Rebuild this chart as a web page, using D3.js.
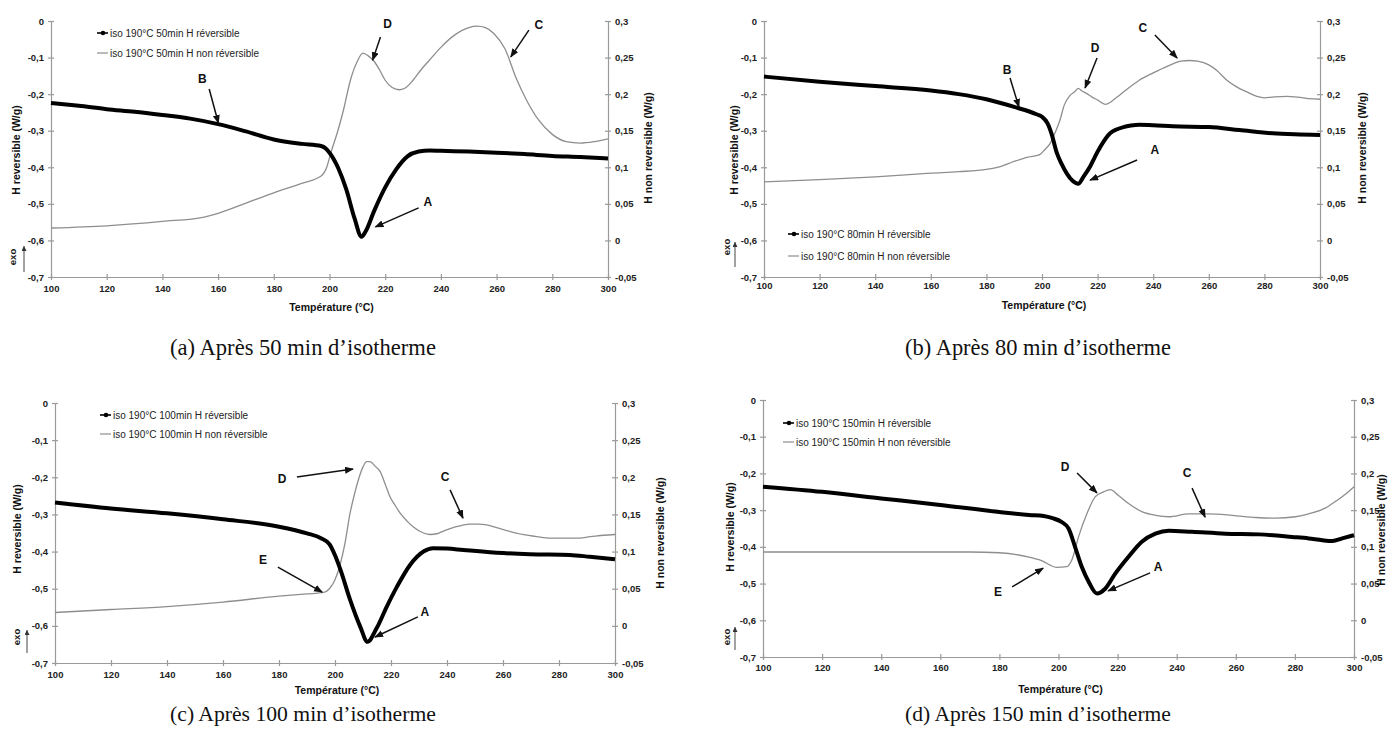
<!DOCTYPE html>
<html><head><meta charset="utf-8">
<script src="https://cdn.jsdelivr.net/npm/d3@7"></script>
<style>body{margin:0;background:#fff}svg{display:block}</style>
</head><body>
<svg id="c" width="1389" height="738"></svg>
<script>
// ---------- data ----------
const tempTicks = [100,120,140,160,180,200,220,240,260,280,300];
const leftTicks = [0,-0.1,-0.2,-0.3,-0.4,-0.5,-0.6,-0.7];
const rightTicks = [0.3,0.25,0.2,0.15,0.1,0.05,0,-0.05];

// (a) 50 min
const revT_a = [100,110,120,130,140,150,160,170,180,190,197,200,203,206,209,211.5,213,216,220,224,228,232,236,240,250,260,270,280,290,300];
const revV_a = [-0.224,-0.232,-0.241,-0.248,-0.257,-0.267,-0.282,-0.302,-0.324,-0.336,-0.342,-0.36,-0.40,-0.46,-0.54,-0.59,-0.575,-0.52,-0.455,-0.405,-0.37,-0.357,-0.354,-0.355,-0.357,-0.36,-0.364,-0.369,-0.372,-0.376];
const nrT_a = [100,120,140,155,160,170,180,190,197,199,200.5,203,205,207.5,210,212,214,216,218,220,222.5,225,227,230,233,236,240,245,250,253,256,259,263,267,271,275,280,285,290,295,300];
const nrV_a = [0.017,0.020,0.026,0.032,0.037,0.051,0.065,0.078,0.088,0.10,0.12,0.15,0.178,0.219,0.245,0.256,0.252,0.245,0.233,0.219,0.209,0.206,0.208,0.219,0.234,0.247,0.264,0.281,0.291,0.293,0.291,0.283,0.262,0.222,0.19,0.165,0.145,0.135,0.133,0.135,0.139];

// (b) 80 min
const revT_b = [100,120,140,160,170,180,190,198,200,202,203.5,205.3,207,209,211,213,215,217.3,219,221,224.5,227,229.3,232,235,240,247,260,271,283,291,300];
const revV_b = [-0.152,-0.166,-0.178,-0.19,-0.2,-0.214,-0.235,-0.255,-0.262,-0.28,-0.31,-0.36,-0.39,-0.418,-0.437,-0.445,-0.425,-0.398,-0.372,-0.344,-0.307,-0.296,-0.29,-0.286,-0.284,-0.285,-0.288,-0.29,-0.298,-0.307,-0.31,-0.312];
const nrT_b = [100,120,140,160,170,180,185,190,195,199,201,203,205,206.5,208,210,212,213,214.5,216,218,220,222.7,225,227,230,235,240,245,250,253,256,260,263,266.5,270,273.7,277.3,280,283,288,292,296,300];
const nrV_b = [0.080,0.083,0.087,0.092,0.094,0.097,0.101,0.108,0.114,0.117,0.124,0.133,0.15,0.165,0.185,0.198,0.204,0.208,0.204,0.201,0.196,0.192,0.186,0.19,0.196,0.205,0.219,0.229,0.238,0.245,0.246,0.245,0.24,0.232,0.219,0.21,0.203,0.197,0.195,0.196,0.197,0.196,0.194,0.193];

// (c) 100 min
const revT_c = [100,120,140,160,180,190,195,198,200,202,205.4,209,211.6,214.9,218.5,222.1,226.8,231.6,235,240,245.8,257.7,269.6,283.9,291,300];
const revV_c = [-0.268,-0.284,-0.297,-0.313,-0.333,-0.351,-0.364,-0.38,-0.41,-0.45,-0.53,-0.602,-0.643,-0.606,-0.548,-0.495,-0.436,-0.40,-0.391,-0.392,-0.396,-0.403,-0.407,-0.409,-0.414,-0.421];
const nrT_c = [100,120,140,160,180,190,196,198,200,202,203.5,205.4,207,208.3,210,211.3,212.5,214.3,216.1,218,219.6,221.5,223.2,226,228,231.6,234,236.4,239,241.1,245,248.3,251,254.2,258,262.6,267,272.1,277,281.7,286,291.2,296,300];
const nrV_c = [0.018,0.022,0.026,0.032,0.040,0.043,0.045,0.05,0.062,0.085,0.11,0.152,0.178,0.196,0.214,0.221,0.221,0.215,0.208,0.19,0.174,0.162,0.152,0.14,0.133,0.125,0.123,0.124,0.128,0.131,0.135,0.137,0.137,0.136,0.132,0.127,0.123,0.12,0.118,0.118,0.118,0.12,0.122,0.123];

// (d) 150 min
const revT_d = [100,120,140,160,180,190,195,198,201,203.4,205.6,207.9,210.2,213,215.8,219.2,223.7,228.2,232.8,237.3,245.2,256.5,267.8,279.1,284.7,289.3,292.7,296,300];
const revV_d = [-0.236,-0.25,-0.268,-0.286,-0.305,-0.313,-0.316,-0.322,-0.332,-0.35,-0.4,-0.455,-0.495,-0.527,-0.514,-0.473,-0.427,-0.386,-0.364,-0.356,-0.359,-0.364,-0.366,-0.373,-0.377,-0.382,-0.384,-0.377,-0.368];
const nrT_d = [100,120,140,160,170,180,190,195,197.2,199.4,202.8,204.5,206.8,209.6,212.4,215.3,217.5,220.3,223.7,228.2,232.8,237.3,244.1,250.8,258.8,266.7,273.4,280.2,284.7,290.4,293.8,297.2,300];
const nrV_d = [0.093,0.093,0.093,0.093,0.093,0.092,0.086,0.08,0.075,0.072,0.073,0.082,0.114,0.145,0.168,0.175,0.178,0.17,0.159,0.148,0.143,0.141,0.145,0.145,0.143,0.14,0.139,0.141,0.145,0.153,0.162,0.172,0.182];

const legendRev = ["iso 190°C 50min H réversible","iso 190°C 80min H réversible","iso 190°C 100min H réversible","iso 190°C 150min H réversible"];
const legendNr  = ["iso 190°C 50min H non réversible","iso 190°C 80min H non réversible","iso 190°C 100min H non réversible","iso 190°C 150min H non réversible"];
const captions  = ["(a) Après 50 min d’isotherme","(b) Après 80 min d’isotherme","(c) Après 100 min d’isotherme","(d) Après 150 min d’isotherme"];
const xTitle = "Température (°C)", yLeftTitle = "H reversible (W/g)", yRightTitle = "H non reversible (W/g)";

// ---------- layout (positions) ----------
const layout = [
  {x0:51, x1:608, y0:21, y1:277, lblOff:15, ttlOff:30, leg:[97,33,20], cap:[303,355],
   lt:[16,150], rt:[648,148], exo:[13,257,24,272,246],
   notes:[["B",154.3,-0.159,156.8,-0.186,160.1,-0.279],["D",220.9,-0.008,218.3,-0.044,215.5,-0.107],
          ["C",275.2,-0.011,271.6,-0.025,265.1,-0.098],["A",235.3,-0.495,232,-0.511,216.5,-0.563]]},
  {x0:764, x1:1320, y0:21, y1:277, lblOff:12, ttlOff:28, leg:[788,234,22], cap:[1038,355],
   lt:[734,150], rt:[1362,148], exo:[727,247,735,267,242],
   notes:[["B",187.4,-0.134,188.5,-0.156,191.7,-0.235],["C",236.3,-0.019,240.6,-0.038,248.6,-0.101],
          ["D",219.1,-0.074,219.8,-0.101,215.5,-0.183],["A",240.6,-0.353,234.2,-0.38,217.3,-0.435]]},
  {x0:55, x1:615, y0:403, y1:663, lblOff:15, ttlOff:27, leg:[100,415,19], cap:[303,721],
   lt:[17,529], rt:[660,533], exo:[17,637,27,653,630],
   notes:[["D",181.1,-0.205,186.4,-0.199,206.4,-0.178],["E",174.3,-0.423,179.6,-0.442,195.4,-0.509],
          ["C",239.3,-0.199,241.1,-0.234,245.7,-0.31],["A",232.1,-0.563,229.6,-0.576,214.3,-0.63]]},
  {x0:763, x1:1354, y0:400, y1:657, lblOff:14, ttlOff:32, leg:[783,423,19], cap:[1038,721],
   lt:[730,527], rt:[1381,530], exo:[727,637,735,650,627],
   notes:[["D",202.2,-0.183,206.3,-0.199,213,-0.253],["C",243.5,-0.199,245.2,-0.24,249.6,-0.319],
          ["A",233.7,-0.455,231,-0.471,216.8,-0.52],["E",179.5,-0.523,184.3,-0.509,194.8,-0.458]]}
];
const series = [
  [revT_a,revV_a,nrT_a,nrV_a],[revT_b,revV_b,nrT_b,nrV_b],
  [revT_c,revV_c,nrT_c,nrV_c],[revT_d,revV_d,nrT_d,nrV_d]
];

const SANS = "'Liberation Sans', Arial, sans-serif";
const svg = d3.select("#c");
svg.append("defs").append("marker").attr("id","ah").attr("markerUnits","userSpaceOnUse")
  .attr("markerWidth",10).attr("markerHeight",8).attr("refX",8).attr("refY",3.5).attr("orient","auto")
  .append("path").attr("d","M0,0 L9,3.5 L0,7 Z").attr("fill","#111");
svg.select("defs").append("marker").attr("id","ah2").attr("markerUnits","userSpaceOnUse")
  .attr("markerWidth",6).attr("markerHeight",6).attr("refX",5).attr("refY",2.5).attr("orient","auto")
  .append("path").attr("d","M0,0 L5,2.5 L0,5 Z").attr("fill","#333");

const fmt = d => String(+d.toFixed(2)).replace(".", ",");
const axisCol = "#9a9a9a";

layout.forEach((L, i) => {
  const [rT, rV, nT, nV] = series[i];
  const x = d3.scaleLinear().domain([100,300]).range([L.x0, L.x1]);
  const yl = d3.scaleLinear().domain([-0.7,0]).range([L.y1, L.y0]);
  const yr = d3.scaleLinear().domain([-0.05,0.3]).range([L.y1, L.y0]);
  const g = svg.append("g");

  // axes
  const ax = g.append("g").attr("transform",`translate(0,${L.y1})`)
    .call(d3.axisBottom(x).tickValues(tempTicks).tickSize(3).tickSizeOuter(0).tickFormat(d=>d));
  const al = g.append("g").attr("transform",`translate(${L.x0},0)`)
    .call(d3.axisLeft(yl).tickValues(leftTicks).tickSize(3).tickSizeOuter(0).tickFormat(fmt));
  const ar = g.append("g").attr("transform",`translate(${L.x1},0)`)
    .call(d3.axisRight(yr).tickValues(rightTicks).tickSize(3).tickSizeOuter(0).tickFormat(fmt));
  [ax,al,ar].forEach(a => {
    a.select(".domain").attr("stroke",axisCol).attr("stroke-width",1.2);
    a.selectAll(".tick line").attr("stroke",axisCol).attr("stroke-width",1.2);
    a.selectAll("text").attr("fill","#222").style("font-family",SANS)
      .style("font-size","9.5px").style("font-weight","bold");
  });
  ax.selectAll(".tick line").attr("y1",-3).attr("y2",3);
  ax.selectAll(".tick text").attr("y",L.lblOff-3).attr("dy","0.32em");
  al.selectAll(".tick line").attr("x1",3).attr("x2",-3);
  al.selectAll(".tick text").attr("x",-7);
  ar.selectAll(".tick line").attr("x1",-3).attr("x2",3);
  ar.selectAll(".tick text").attr("x",7);

  // curves
  const lineL = d3.line().x(d=>x(d[0])).y(d=>yl(d[1])).curve(d3.curveMonotoneX);
  const lineR = d3.line().x(d=>x(d[0])).y(d=>yr(d[1])).curve(d3.curveMonotoneX);
  g.append("path").attr("d", lineR(nT.map((t,k)=>[t,nV[k]])))
    .attr("fill","none").attr("stroke","#8e8e8e").attr("stroke-width",1.3);
  g.append("path").attr("d", lineL(rT.map((t,k)=>[t,rV[k]])))
    .attr("fill","none").attr("stroke","#000").attr("stroke-width",4).attr("stroke-linejoin","round");

  // titles
  const tt = (s, xx, yy, rot, size) => g.append("text").text(s)
    .attr("transform",`translate(${xx},${yy}) rotate(${rot})`).attr("text-anchor","middle")
    .attr("dy","0.35em").style("font-family",SANS).style("font-size",size+"px")
    .style("font-weight","bold").attr("fill","#111");
  tt(xTitle, (L.x0+L.x1)/2 + 2, L.y1 + L.ttlOff, 0, 10.5);
  tt(yLeftTitle, L.lt[0], L.lt[1], -90, 10.5);
  tt(yRightTitle, L.rt[0], L.rt[1], -90, 10.5);
  // exo
  tt("exo", L.exo[0], L.exo[1], -90, 9.5);
  g.append("line").attr("x1",L.exo[2]).attr("x2",L.exo[2]).attr("y1",L.exo[3]).attr("y2",L.exo[4])
    .attr("stroke","#444").attr("stroke-width",1).attr("marker-end","url(#ah2)");

  // legend
  const [lx, ly, ld] = L.leg;
  g.append("line").attr("x1",lx).attr("x2",lx+11).attr("y1",ly).attr("y2",ly).attr("stroke","#000").attr("stroke-width",1.6);
  g.append("circle").attr("cx",lx+6).attr("cy",ly).attr("r",2.3).attr("fill","#000");
  g.append("line").attr("x1",lx).attr("x2",lx+11).attr("y1",ly+ld).attr("y2",ly+ld).attr("stroke","#8e8e8e").attr("stroke-width",1.2);
  [[legendRev[i],ly],[legendNr[i],ly+ld]].forEach(([s,yy]) =>
    g.append("text").text(s).attr("x",lx+13).attr("y",yy).attr("dy","0.35em")
      .style("font-family",SANS).style("font-size","10px").attr("fill","#222"));

  // annotations
  L.notes.forEach(n => {
    g.append("text").text(n[0]).attr("x",x(n[1])).attr("y",yl(n[2])).attr("dy","0.35em")
      .attr("text-anchor","middle").style("font-family",SANS).style("font-size","12px")
      .style("font-weight","bold").attr("fill","#111");
    g.append("line").attr("x1",x(n[3])).attr("y1",yl(n[4])).attr("x2",x(n[5])).attr("y2",yl(n[6]))
      .attr("stroke","#111").attr("stroke-width",1.5).attr("marker-end","url(#ah)");
  });

  // caption
  const cap = g.append("text").text(captions[i]).attr("x",L.cap[0]).attr("y",L.cap[1])
    .attr("text-anchor","middle").style("font-family","'Liberation Serif','DejaVu Serif',serif")
    .style("font-size","22px").attr("fill","#111");
  const w = cap.node().getComputedTextLength();
  cap.style("font-size", (22*266/w).toFixed(2)+"px");
});
</script>
</body></html>
